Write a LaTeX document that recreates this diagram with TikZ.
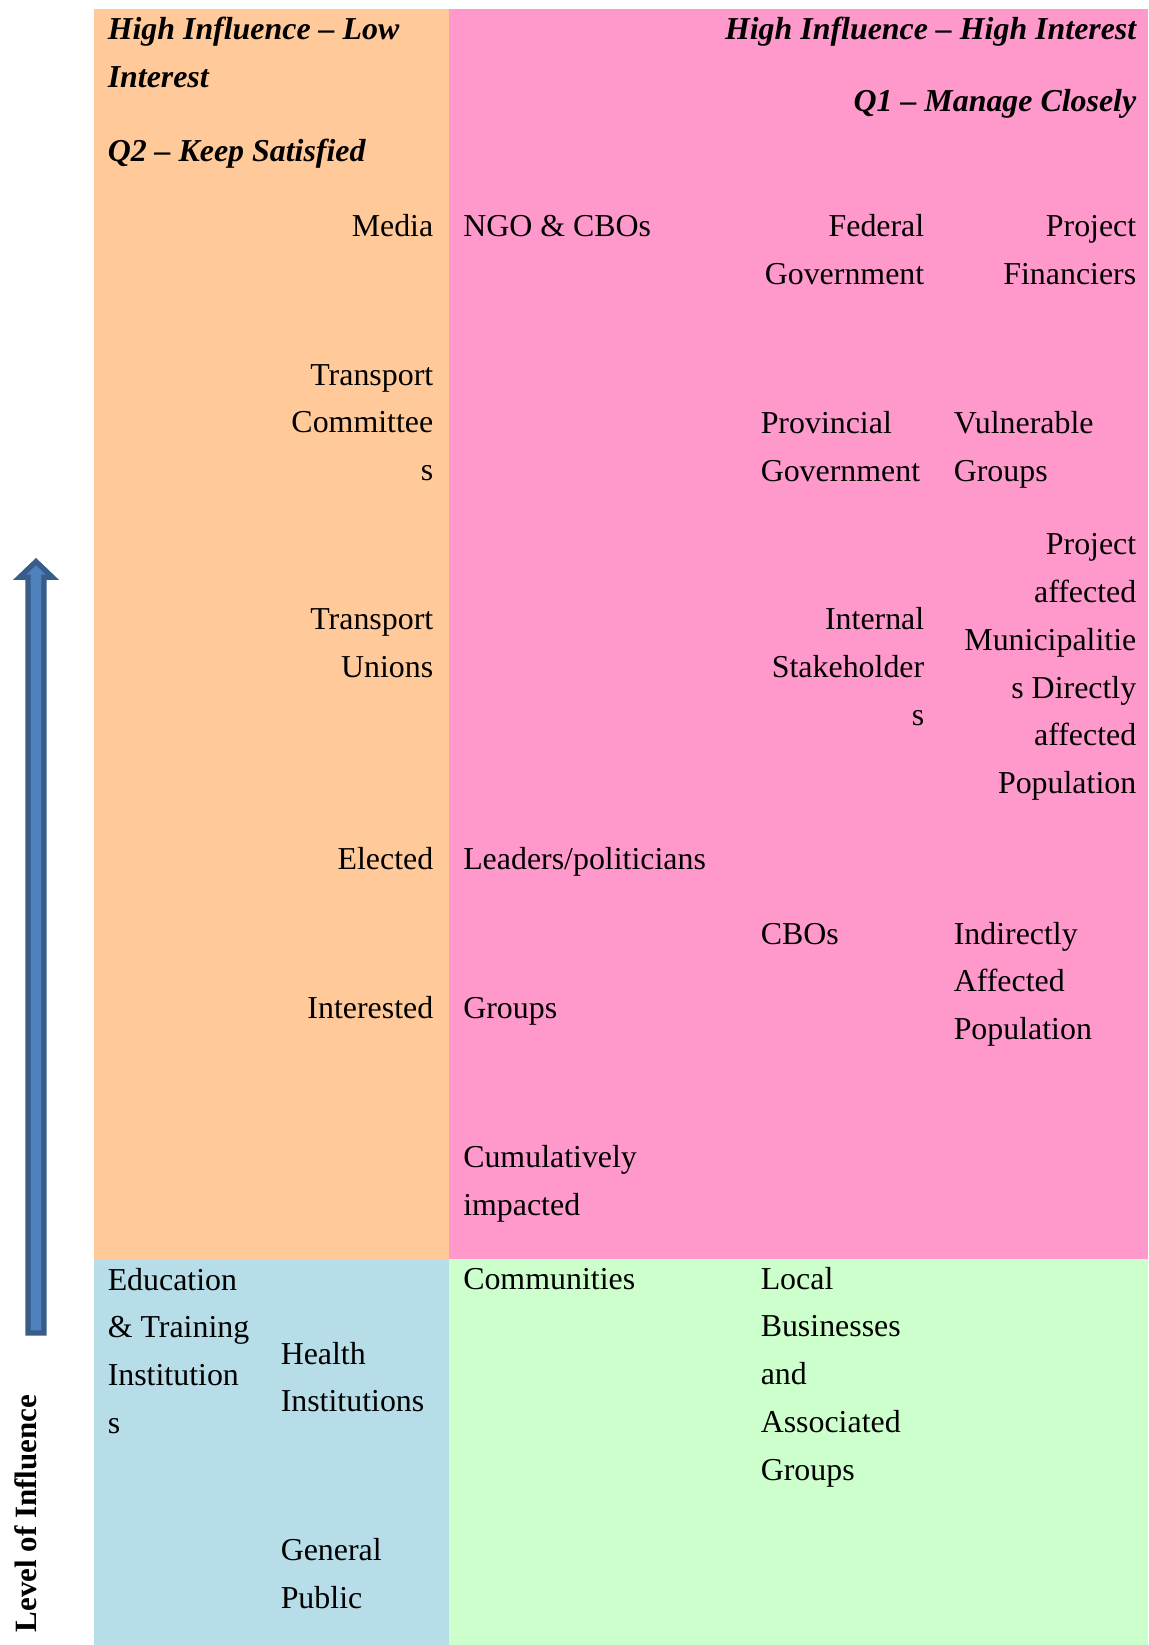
\documentclass[tikz,border=0pt]{standalone}
\usepackage{fontspec}
\setmainfont{Liberation Serif}

\definecolor{satisfyorange}{RGB}{255,201,153}
\definecolor{manageping}{RGB}{255,153,204}
\definecolor{informblue}{RGB}{182,221,232}
\definecolor{monitorgreen}{RGB}{204,255,204}
\definecolor{arrowfill}{RGB}{79,129,189}
\definecolor{arrowline}{RGB}{56,93,138}

\newcommand{\lnstrut}{\rule{0pt}{12pt}}

\tikzset{every picture/.style={line width=0.75pt}}
\tikzset{
  cell/.style={inner sep=0pt, font=\fontsize{15.95}{23.9}\selectfont},
  cellleft/.style={cell, anchor=north west, align=left},
  cellright/.style={cell, anchor=north east, align=right},
  quadhead/.style={font=\fontsize{15.95}{23.9}\selectfont\bfseries\itshape}
}

\begin{document}
\begin{tikzpicture}[x=0.5pt,y=0.5pt,yscale=-1,xscale=1]
			\useasboundingbox (0,0) rectangle (1148,1645);
			
			%Shape: Rectangle [Q2 keep satisfied]
			\fill [satisfyorange] (94,9) rectangle (449,1259);
			%Shape: Rectangle [Q1 manage closely]
			\fill [manageping] (449,9) rectangle (1148,1259);
			%Shape: Rectangle [low influence - low interest]
			\fill [informblue] (94,1259) rectangle (449,1645);
			%Shape: Rectangle [low influence - high interest]
			\fill [monitorgreen] (449,1259) rectangle (1148,1645);
			
			%Shape: Up Arrow [level of influence]
			\draw [arrowline, fill=arrowfill, line width=2.6pt] (28,1333) -- (28,577.3) -- (19.5,577.3) -- (36,561.5) -- (52.5,577.3) -- (44,577.3) -- (44,1333) -- cycle ;
			
			% Text Node
			\node (axis) [cell, font=\fontsize{15.5}{23.9}\selectfont\bfseries, rotate=90, anchor=base west] at (36.5,1633) {Level of Influence};
			
			% Text Node
			\node (hilow) [cellleft, quadhead] at (107,15) {\lnstrut High Influence -- Low\\Interest};
			% Text Node
			\node (qtwo) [cellleft, quadhead] at (107,136.7) {\lnstrut Q2 -- Keep Satisfied};
			% Text Node
			\node (hihigh) [cellright, quadhead] at (1137,15) {\lnstrut High Influence -- High Interest};
			% Text Node
			\node (qone) [cellright, quadhead] at (1137,87) {\lnstrut Q1 -- Manage Closely};
			
			% Text Node
			\node (media) [cellright] at (434,211.7) {\lnstrut Media};
			% Text Node
			\node (tcomm) [cellright] at (434,360.3) {\lnstrut Transport\\Committee\\s};
			% Text Node
			\node (tunion) [cellright] at (434,604.7) {\lnstrut Transport\\Unions};
			% Text Node
			\node (elected) [cellright] at (434,845) {\lnstrut Elected};
			% Text Node
			\node (interested) [cellright] at (434,993.3) {\lnstrut Interested};
			
			% Text Node
			\node (ngo) [cellleft] at (462.5,211.7) {\lnstrut NGO \& CBOs};
			% Text Node
			\node (leaders) [cellleft] at (462.5,845) {\lnstrut Leaders/politicians};
			% Text Node
			\node (groups) [cellleft] at (462.5,993.3) {\lnstrut Groups};
			% Text Node
			\node (cumul) [cellleft] at (462.5,1142.7) {\lnstrut Cumulatively\\impacted};
			
			% Text Node
			\node (federal) [cellright] at (925,211.7) {\lnstrut Federal\\Government};
			% Text Node
			\node (provincial) [cellleft] at (760,408.7) {\lnstrut Provincial\\Government};
			% Text Node
			\node (internal) [cellright] at (925,604.7) {\lnstrut Internal\\Stakeholder\\s};
			% Text Node
			\node (cbos) [cellleft] at (760,919.3) {\lnstrut CBOs};
			
			% Text Node
			\node (financiers) [cellright] at (1137,211.7) {\lnstrut Project\\Financiers};
			% Text Node
			\node (vulnerable) [cellleft] at (953,408.7) {\lnstrut Vulnerable\\Groups};
			% Text Node
			\node (directly) [cellright] at (1137,530) {\lnstrut Project\\affected\\Municipalitie\\s Directly\\affected\\Population};
			% Text Node
			\node (indirectly) [cellleft] at (953,919.3) {\lnstrut Indirectly\\Affected\\Population};
			
			% Text Node
			\node (education) [cellleft] at (107,1265.3) {\lnstrut Education\\\& Training\\Institution\\s};
			% Text Node
			\node (health) [cellleft] at (280,1339.3) {\lnstrut Health\\Institutions};
			% Text Node
			\node (public) [cellleft] at (280,1536) {\lnstrut General\\Public};
			% Text Node
			\node (communities) [cellleft] at (462.5,1264.3) {\lnstrut Communities};
			% Text Node
			\node (local) [cellleft] at (760,1264.3) {\lnstrut Local\\Businesses\\and\\Associated\\Groups};
			
\end{tikzpicture}
\end{document}
